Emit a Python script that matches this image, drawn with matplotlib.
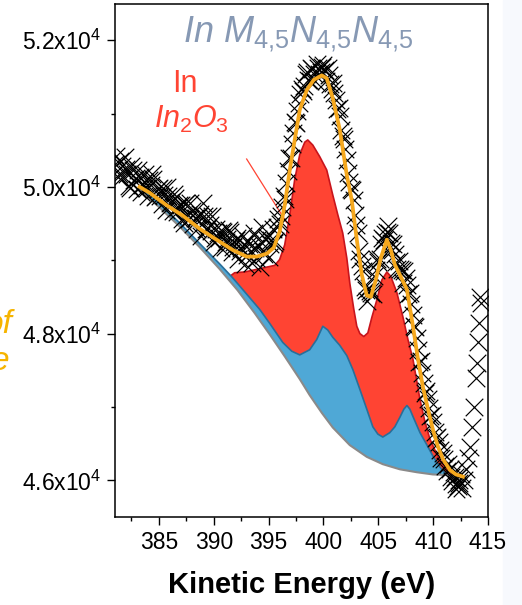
import numpy as np
import matplotlib
matplotlib.use('Agg')
import matplotlib.pyplot as plt
from matplotlib.patches import Rectangle
from matplotlib.ticker import FixedLocator, FuncFormatter, MultipleLocator

plt.rcParams['font.family'] = ['Liberation Sans', 'DejaVu Sans']
plt.rcParams['mathtext.fontset'] = 'custom'
plt.rcParams['mathtext.rm'] = 'Liberation Sans'
plt.rcParams['mathtext.it'] = 'Liberation Sans:italic'
plt.rcParams['mathtext.bf'] = 'Liberation Sans:bold'

# measured spectrum (kinetic energy in eV, counts), two interleaved sweeps
data_e = np.arange(381.0, 412.51, 0.25)
data_c = [50310, 50140, 50350, 50150, 50240, 50010, 50280, 50090, 49970, 50140,
          50020, 50170, 49870, 50020, 50110, 49870, 49990, 49760, 49890, 50000,
          49780, 49670, 49850, 49720, 49750, 49510, 49780, 49560, 49670, 49570,
          49420, 49630, 49780, 49420, 49610, 49400, 49250, 49430, 49310, 49400,
          49180, 49290, 49390, 49180, 49270, 49020, 49170, 49220, 49070, 49220,
          48960, 49170, 49290, 48910, 49130, 49290, 49050, 49270, 49230, 49460,
          49490, 49730, 49840, 50220, 50390, 50730, 50870, 51150, 51330, 51370,
          51560, 51450, 51610, 51450, 51620, 51560, 51660, 51450, 51530, 51330,
          51280, 51060, 50970, 50690, 50510, 50190, 49970, 49820, 49480, 49120,
          48920, 48640, 48450, 48580, 48540, 48870, 48970, 49220, 49280, 49380,
          49370, 49140, 49090, 48880, 48880, 48690, 48760, 48540, 48410, 48100,
          47940, 47610, 47460, 47190, 47110, 46880, 46790, 46580, 46520, 46310,
          46290, 46130, 46160, 45990, 46040, 45920, 46080]
data2_e = np.arange(381.125, 412.4, 0.25)
data2_c = [50420, 50180, 50280, 50410, 50180, 49990, 50230, 50120, 50230, 49930,
           50070, 49980, 50090, 50180, 49860, 49970, 49880, 49990, 49680, 49880,
           49800, 49900, 49660, 49750, 49560, 49770, 49620, 49780, 49490, 49580,
           49600, 49330, 49610, 49420, 49480, 49610, 49310, 49370, 49170, 49390,
           49250, 49410, 49110, 49250, 49300, 49120, 49330, 48950, 49260, 49130,
           49370, 49030, 49200, 49450, 49090, 49320, 49220, 49430, 49260, 49560,
           49600, 49880, 50050, 50390, 50580, 50890, 51040, 51260, 51310, 51540,
           51460, 51620, 51540, 51680, 51540, 51640, 51590, 51620, 51400, 51410,
           51180, 51070, 50780, 50650, 50360, 50070, 49960, 49620, 49370, 49020,
           48860, 48600, 48620, 48560, 48780, 49020, 49020, 49310, 49360, 49470,
           49240, 49220, 48980, 48990, 48870, 48860, 48660, 48560, 48260, 48090,
           47770, 47620, 47330, 47220, 46980, 46890, 46660, 46590, 46410, 46370,
           46190, 46220, 46040, 46120, 45950, 46000]
tail_e = [412.1, 412.35, 412.6, 412.8, 413.0, 413.2, 413.36, 413.55, 413.75,
          413.9, 414.0, 414.1, 414.15, 414.27, 414.35]
tail_c = [45880, 45960, 45900, 46010, 46150, 46300, 46460, 46730, 47000,
          47400, 47600, 47880, 48150, 48500, 48420]

# Shirley background
bg_e = [383.24, 385.06, 386.89, 388.71, 390.54, 392.18, 393.73, 395.10, 396.47,
        397.84, 398.75, 399.85, 400.85, 402.40, 403.95, 405.41, 406.97, 408.52,
        409.98, 411.53]
bg_c = [49960, 49720, 49460, 49180, 48880, 48590, 48280, 47990, 47690,
        47380, 47160, 46920, 46720, 46480, 46320, 46220, 46150, 46110,
        46080, 46070]

# background + In metal component
met_e = [383.24, 385.06, 386.89, 388.71, 390.54, 391.73, 393.28, 394.19, 395.10,
         396.29, 397.11, 397.84, 398.75, 399.39, 399.94, 400.39, 400.85, 401.49,
         402.13, 402.68, 403.32, 403.95, 404.50, 404.96, 405.41, 406.05, 406.51,
         406.97, 407.33, 407.61, 407.88, 408.16, 408.80, 409.44, 409.98, 410.62,
         411.08, 411.53]
met_c = [50000, 49770, 49510, 49230, 48950, 48760, 48490, 48330, 48140,
         47880, 47760, 47710, 47780, 47920, 48100, 48050, 47950, 47840,
         47700, 47510, 47240, 46970, 46730, 46630, 46590, 46650, 46730,
         46860, 46970, 47020, 46970, 46870, 46650, 46480, 46330, 46180,
         46100, 46070]

# background + metal + In2O3 component
ox_e = [391.55, 391.91, 392.82, 393.73, 394.64, 395.56, 396.01, 396.47, 396.93,
        397.38, 397.84, 398.30, 398.57, 399.03, 399.67, 400.30, 400.85, 401.31,
        401.76, 402.13, 402.40, 402.77, 403.04, 403.32, 403.68, 404.05, 404.41,
        404.87, 405.32, 405.78, 406.14, 406.69, 407.24, 407.70, 408.16, 408.80,
        409.25, 409.71, 410.35, 410.89, 411.53, 411.99]
ox_c = [48790, 48830, 48840, 48870, 48900, 48930, 49010, 49210, 49620,
        50100, 50440, 50610, 50640, 50570, 50410, 50230, 49890, 49620,
        49370, 49030, 48690, 48330, 48100, 48000, 47960, 48010, 48220,
        48460, 48730, 48840, 48780, 48560, 48230, 47920, 47650, 47100,
        46800, 46560, 46350, 46220, 46100, 46070]

# fit envelope
env_e = [383.24, 384.15, 385.70, 387.16, 388.71, 390.26, 391.73, 393.00, 393.92,
         394.83, 395.47, 396.01, 396.47, 396.93, 397.38, 397.84, 398.48, 399.12,
         399.85, 400.30, 400.85, 401.49, 402.13, 402.58, 403.04, 403.50, 403.95,
         404.32, 404.77, 405.23, 405.78, 406.14, 406.51, 406.97, 407.61, 408.16,
         408.62, 409.07, 409.53, 409.98, 410.44, 410.89, 411.53, 412.08, 412.72]
env_c = [50000, 49920, 49750, 49610, 49430, 49280, 49140, 49050, 49050,
         49090, 49170, 49390, 49750, 50230, 50640, 51050, 51320, 51460,
         51520, 51480, 51210, 50780, 50160, 49820, 49280, 48800, 48520,
         48500, 48730, 49030, 49280, 49140, 48940, 48800, 48600, 48100,
         47650, 47270, 46970, 46690, 46460, 46290, 46140, 46080, 46050]

fig = plt.figure(figsize=(5.22, 6.05), dpi=100)
fig.add_artist(Rectangle((503 / 522, 0), 1, 1, transform=fig.transFigure,
                         color='#f7f9fd', zorder=0))
ax = fig.add_axes([115 / 522, 88 / 605, 373 / 522, 513.5 / 605])

bg_e, bg_c = np.array(bg_e), np.array(bg_c)
met_e, met_c = np.array(met_e), np.array(met_c)
ox_e, ox_c = np.array(ox_e), np.array(ox_c)

# In2O3 area (drawn down to background, metal area covers the lower part)
sel = bg_e >= ox_e[0]
ax.fill(np.r_[ox_e, bg_e[sel][::-1]], np.r_[ox_c, bg_c[sel][::-1]],
        facecolor='#ff4433', edgecolor='none', zorder=1)
ax.plot(ox_e, ox_c, color='#c8141c', lw=1.2, zorder=1.5)
ax.fill(np.r_[met_e, bg_e[::-1]], np.r_[met_c, bg_c[::-1]],
        facecolor='#4fa8d6', edgecolor='none', zorder=2)
ax.plot(met_e, met_c, color='#2a6e99', lw=1.2, zorder=2.5)
ax.plot(bg_e, bg_c, color='#8a8a8a', lw=1.5, zorder=2.6)

ax.plot([393.0, 396.66], [50380, 49510], color='#ff4433', lw=0.9, zorder=3)

ax.scatter(np.r_[data_e, data2_e, tail_e], np.r_[data_c, data2_c, tail_c],
           marker='x', s=160, color='black', linewidths=0.85, zorder=4)
ax.plot(env_e, env_c, color='#f5a81e', lw=2.7, zorder=5)

ax.set_xlim(381, 415)
ax.set_ylim(45500, 52500)
ax.xaxis.set_major_locator(MultipleLocator(5))
ax.xaxis.set_minor_locator(MultipleLocator(2.5))
ax.yaxis.set_major_locator(FixedLocator([46000, 48000, 50000, 52000]))
ax.yaxis.set_minor_locator(FixedLocator([47000, 49000, 51000]))
ax.yaxis.set_major_formatter(FuncFormatter(lambda v, p: f'{v / 1e4:.1f}x10$^4$'))
ax.set_xticks([385, 390, 395, 400, 405, 410, 415])

ax.tick_params(which='major', direction='out', length=6, width=1.0,
               labelsize=16.5, pad=4, top=False, right=False)
ax.tick_params(which='minor', direction='out', length=3, width=1.0,
               top=False, right=False)
for s in ax.spines.values():
    s.set_linewidth(1.1)

ax.set_xlabel('Kinetic Energy (eV)', fontsize=21, fontweight='bold', labelpad=12)

ax.text(0.492, 0.925, r'$\mathit{In\ M_{4{,}5}N_{4{,}5}N_{4{,}5}}$', transform=ax.transAxes,
        ha='center', va='baseline', fontsize=26, color='#8799b4')
ax.text(0.188, 0.828, 'In', transform=ax.transAxes, ha='center', va='baseline',
        fontsize=22, color='#ff4433')
ax.text(0.206, 0.758, r'$\mathit{In_2O_3}$', transform=ax.transAxes, ha='center',
        va='baseline', fontsize=22, color='#ff4433')

# cut-off words from the neighbouring panel (cropped in the reference too)
fig.text(13 / 522, 1 - 333 / 605, 'of', ha='right', va='baseline', fontsize=24,
         style='italic', color='#f6b400')
fig.text(9 / 522, 1 - 370 / 605, 'e', ha='right', va='baseline', fontsize=24,
         style='italic', color='#f6b400')

fig.savefig('out.png', dpi=100)
